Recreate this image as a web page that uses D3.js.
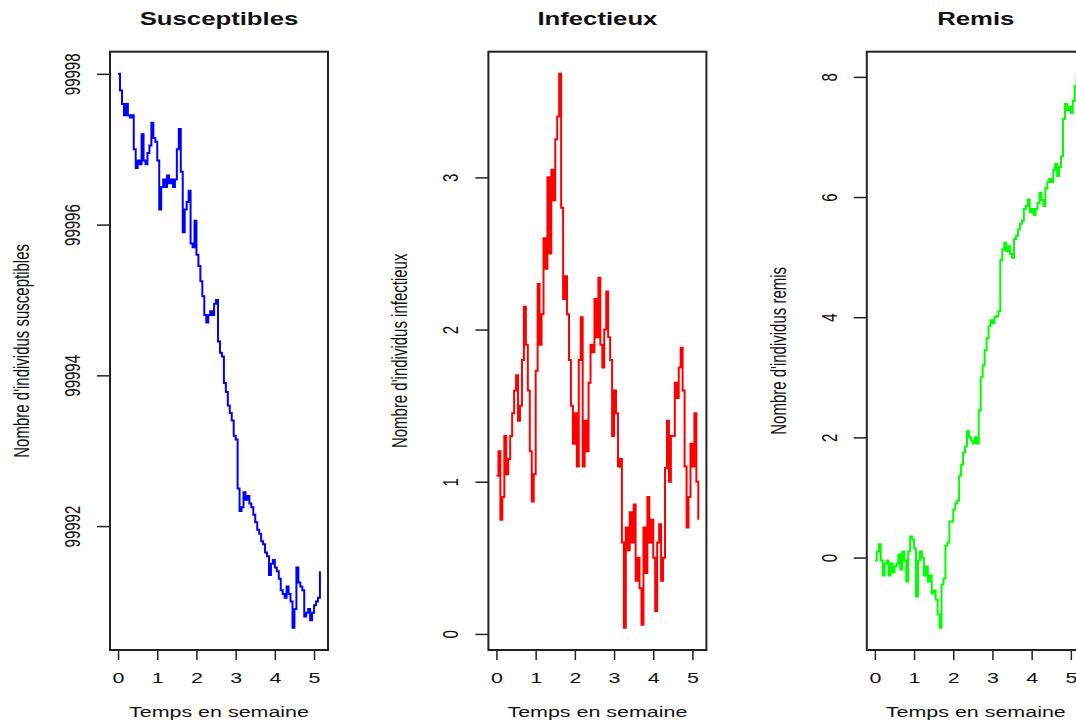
<!DOCTYPE html>
<html>
<head>
<meta charset="utf-8">
<script src="https://cdn.jsdelivr.net/npm/d3@7"></script>
<style>
  body { margin: 0; background: #fff; }
  svg { display: block; }
  text { font-family: "Liberation Sans", Arial, sans-serif; fill: #111; }
</style>
</head>
<body>
<div id="chart"></div>
<script>
let weeks = [
  0.00, 0.05, 0.10, 0.15, 0.20, 0.25, 0.30, 0.35, 0.40, 0.45,
  0.50, 0.55, 0.60, 0.65, 0.70, 0.75, 0.80, 0.85, 0.90, 0.95,
  1.00, 1.05, 1.10, 1.15, 1.20, 1.25, 1.30, 1.35, 1.40, 1.45,
  1.50, 1.55, 1.60, 1.65, 1.70, 1.75, 1.80, 1.85, 1.90, 1.95,
  2.00, 2.05, 2.10, 2.15, 2.20, 2.25, 2.30, 2.35, 2.40, 2.45,
  2.50, 2.55, 2.60, 2.65, 2.70, 2.75, 2.80, 2.85, 2.90, 2.95,
  3.00, 3.05, 3.10, 3.15, 3.20, 3.25, 3.30, 3.35, 3.40, 3.45,
  3.50, 3.55, 3.60, 3.65, 3.70, 3.75, 3.80, 3.85, 3.90, 3.95,
  4.00, 4.05, 4.10, 4.15, 4.20, 4.25, 4.30, 4.35, 4.40, 4.45,
  4.50, 4.55, 4.60, 4.65, 4.70, 4.75, 4.80, 4.85, 4.90, 4.95,
  5.00, 5.05, 5.10, 5.15
];

let susceptibles = [
  99998.0, 99997.78, 99997.6, 99997.45, 99997.6, 99997.45, 99997.42, 99997.45, 99997.0, 99996.75,
  99996.85, 99996.8, 99997.2, 99996.85, 99996.8, 99996.95, 99997.05, 99997.35, 99997.15, 99997.1,
  99996.85, 99996.2, 99996.5, 99996.6, 99996.5, 99996.65, 99996.55, 99996.6, 99996.5, 99996.6,
  99997.0, 99997.27, 99996.7, 99995.9, 99996.2, 99996.3, 99996.45, 99995.75, 99995.7, 99996.05,
  99995.6, 99995.45, 99995.25, 99995.05, 99994.8, 99994.7, 99994.8, 99994.85, 99994.8, 99994.95,
  99995.0, 99994.45, 99994.3, 99994.25, 99993.9, 99993.78, 99993.6, 99993.5, 99993.4, 99993.2,
  99993.15, 99992.5, 99992.2, 99992.25, 99992.45, 99992.35, 99992.4, 99992.3, 99992.25, 99992.15,
  99992.05, 99991.95, 99991.9, 99991.8, 99991.76, 99991.65, 99991.6, 99991.35, 99991.5, 99991.55,
  99991.45, 99991.4, 99991.3, 99991.15, 99991.1, 99991.05, 99991.2, 99991.1, 99991.0, 99990.65,
  99990.9, 99991.45, 99991.25, 99991.2, 99991.15, 99990.8, 99990.85, 99990.9, 99990.75, 99990.85,
  99990.95, 99991.0, 99991.05, 99991.4
];

let infectieux = [
  1.04, 1.2, 0.75, 0.9, 1.3, 1.05, 1.15, 1.3, 1.45, 1.6,
  1.7, 1.4, 1.5, 1.8, 2.15, 1.9, 1.6, 1.2, 0.87, 1.05,
  1.73, 2.3, 1.9, 2.1, 2.6, 2.4, 3.0, 2.5, 3.05, 2.85,
  3.25, 3.4, 3.68, 2.8, 2.2, 2.35, 2.1, 1.8, 1.5, 1.25,
  1.45, 1.1, 1.8, 2.08, 1.1, 1.4, 1.2, 1.65, 1.9, 1.85,
  2.2, 1.95, 2.34, 1.9, 1.75, 2.0, 2.25, 1.95, 1.8, 1.3,
  1.6, 1.45, 1.1, 1.15, 0.6, 0.04, 0.7, 0.55, 0.8, 0.6,
  0.85, 0.35, 0.5, 0.3, 0.06, 0.7, 0.4, 0.9, 0.6, 0.75,
  0.5, 0.15, 0.6, 0.72, 0.35, 0.5, 1.09, 1.4, 1.0, 1.3,
  1.3, 1.65, 1.55, 1.75, 1.88, 1.6, 1.1, 0.7, 0.9, 1.25,
  1.1, 1.45, 1.0, 0.75
];

let remis = [
  -0.05, 0.1, 0.22, -0.05, -0.3, -0.1, -0.05, -0.3, -0.1, -0.25,
  -0.15, -0.1, 0.05, -0.2, 0.1, -0.05, -0.4, 0.1, 0.35, 0.3,
  0.15, -0.65, -0.05, 0.1, 0.0, -0.3, -0.15, -0.4, -0.3, -0.6,
  -0.55, -0.7, -0.95, -1.17, -0.45, -0.35, 0.2, 0.25, 0.6, 0.6,
  0.8, 0.9, 0.95, 1.36, 1.55, 1.75, 1.85, 2.1, 2.0, 1.95,
  1.9, 2.0, 1.9, 2.45, 3.0, 3.2, 3.45, 3.65, 3.85, 3.95,
  3.9, 4.0, 4.02, 4.1, 4.95, 5.13, 5.24, 5.1, 5.18, 5.05,
  4.99, 5.3, 5.35, 5.46, 5.55, 5.6, 5.8, 5.85, 5.96, 5.75,
  5.8, 5.7, 5.8, 5.9, 6.07, 5.95, 5.85, 6.15, 6.25, 6.3,
  6.25, 6.45, 6.55, 6.35, 6.5, 6.68, 7.3, 7.55, 7.45, 7.5,
  7.4, 7.6, 7.85, 8.05
];

let xTicks = [0, 1, 2, 3, 4, 5];
let titles = ['Susceptibles', 'Infectieux', 'Remis'];
let yLabels = ["Nombre d'individus susceptibles", "Nombre d'individus infectieux", "Nombre d'individus remis"];
let yTicks = [[99992, 99994, 99996, 99998], [0, 1, 2, 3], [0, 2, 4, 6, 8]];
let colors = ['#0000ff', '#ff0000', '#00ff00'];
let series = [susceptibles, infectieux, remis];

let width = 1076;
let height = 722;
let sx = 1.43; // picture is stretched sideways, so is the text
let plotTop = 51.7, plotBottom = 650, boxW = 218, firstLeft = 110, panelStep = 378.4;

let svg = d3.select('#chart')
  .append('svg')
  .attr('width', width)
  .attr('height', height);

// R style range: data extent plus 4% on each side
function pad(e) {
  let d = (e[1] - e[0]) * 0.04;
  return [e[0] - d, e[1] + d];
}

function label(x, y, str, size, bold, rotated) {
  let t = svg.append('text')
    .attr('transform', 'translate(' + x + ',' + y + ') scale(' + sx + ',1)' + (rotated ? ' rotate(-90)' : ''))
    .attr('text-anchor', 'middle')
    .style('font-size', size + 'px')
    .text(str);
  if (bold) t.style('font-weight', 'bold');
}

series.forEach(function(values, i) {
  let left = firstLeft + i * panelStep;
  let x = d3.scaleLinear().domain(pad(d3.extent(weeks))).range([left, left + boxW]);
  let y = d3.scaleLinear().domain(pad(d3.extent(values))).range([plotBottom, plotTop]);

  let line = d3.line()
    .x(function(d, j) { return x(weeks[j]); })
    .y(function(d) { return y(d); })
    .curve(d3.curveStepAfter);

  svg.append('path')
    .datum(values)
    .attr('d', line)
    .attr('fill', 'none')
    .attr('stroke', colors[i])
    .attr('stroke-width', 2);

  // box
  svg.append('rect')
    .attr('x', left)
    .attr('y', plotTop)
    .attr('width', boxW)
    .attr('height', plotBottom - plotTop)
    .attr('fill', 'none')
    .attr('stroke', '#222')
    .attr('stroke-width', 2);

  let xAxis = svg.append('g')
    .attr('transform', 'translate(0,' + plotBottom + ')')
    .call(d3.axisBottom(x).tickValues(xTicks).tickSize(10).tickSizeOuter(0).tickFormat(d3.format('d')));
  xAxis.select('.domain').remove();
  xAxis.selectAll('line').attr('stroke', '#222').attr('stroke-width', 1.5);
  xAxis.selectAll('text')
    .attr('y', 33)
    .attr('dy', 0)
    .attr('transform', 'scale(' + sx + ',1)')
    .style('font-size', '15px')
    .style('font-family', '"Liberation Sans", Arial, sans-serif')
    .attr('fill', '#111');

  let yAxis = svg.append('g')
    .attr('transform', 'translate(' + left + ',0)')
    .call(d3.axisLeft(y).tickValues(yTicks[i]).tickSize(13).tickSizeOuter(0).tickFormat(d3.format('d')));
  yAxis.select('.domain').remove();
  yAxis.selectAll('line').attr('stroke', '#222').attr('stroke-width', 1.5);
  yAxis.selectAll('text')
    .attr('x', 0)
    .attr('y', 0)
    .attr('dy', 0)
    .attr('text-anchor', 'middle')
    .attr('transform', 'translate(-30,0) scale(' + sx + ',1) rotate(-90)')
    .style('font-size', '15px')
    .style('font-family', '"Liberation Sans", Arial, sans-serif')
    .attr('fill', '#111');

  label(left + boxW / 2, 25, titles[i], 18, true, false);
  label(left + boxW / 2, 717, 'Temps en semaine', 15, false, false);
  label(left - 81, (plotTop + plotBottom) / 2, yLabels[i], 15, false, true);
});
</script>
</body>
</html>
